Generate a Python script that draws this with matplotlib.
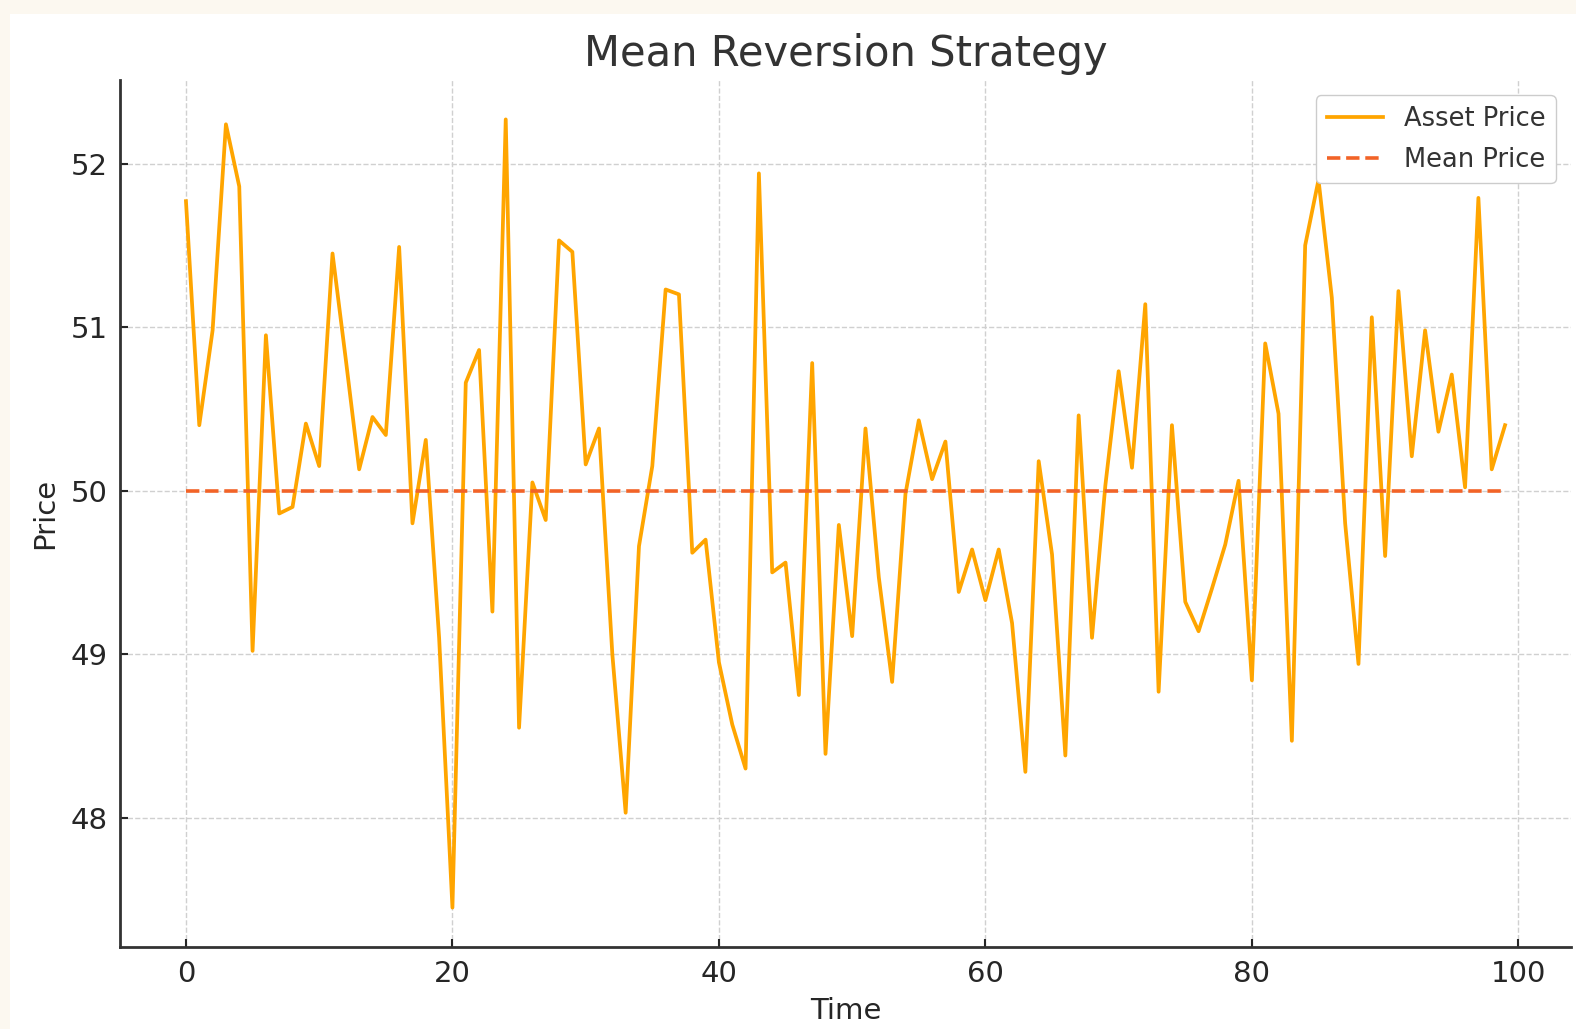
import numpy as np
import matplotlib.pyplot as plt
from matplotlib.patches import Rectangle

# values
time = list(range(100))
asset_price = [
    51.77, 50.40, 50.98, 52.24, 51.86, 49.02, 50.95, 49.86, 49.90, 50.41,
    50.15, 51.45, 50.80, 50.13, 50.45, 50.34, 51.49, 49.80, 50.31, 49.10,
    47.45, 50.66, 50.86, 49.26, 52.27, 48.55, 50.05, 49.82, 51.53, 51.46,
    50.16, 50.38, 49.00, 48.03, 49.66, 50.15, 51.23, 51.20, 49.62, 49.70,
    48.95, 48.57, 48.30, 51.94, 49.50, 49.56, 48.75, 50.78, 48.39, 49.79,
    49.11, 50.38, 49.47, 48.83, 49.98, 50.43, 50.07, 50.30, 49.38, 49.64,
    49.33, 49.64, 49.19, 48.28, 50.18, 49.61, 48.38, 50.46, 49.10, 50.03,
    50.73, 50.14, 51.14, 48.77, 50.40, 49.32, 49.14, 49.40, 49.67, 50.06,
    48.84, 50.90, 50.47, 48.47, 51.50, 51.90, 51.18, 49.80, 48.94, 51.06,
    49.60, 51.22, 50.21, 50.98, 50.36, 50.71, 50.02, 51.79, 50.13, 50.40,
]
mean_price = 50

fig = plt.figure(figsize=(15.76, 10.29), dpi=100, facecolor='#fcf8f0')
# white card inside the cream border
fig.add_artist(Rectangle((10 / 1576, 0), 1, 1 - 14 / 1029, transform=fig.transFigure,
                         facecolor='white', edgecolor='none', zorder=-5))
ax = fig.add_axes([120 / 1576, 82 / 1029, 1451 / 1576, 867 / 1029])
ax.set_facecolor('white')

ax.plot(time, asset_price, color='#ffa500', lw=2.7, label='Asset Price')
ax.plot(time, [mean_price] * len(time), color='#f26327', lw=2.6, ls='--', label='Mean Price')

ax.set_title('Mean Reversion Strategy', fontsize=30, color='#333333', pad=10)
ax.set_xlabel('Time', fontsize=21, color='#262626', labelpad=7)
ax.set_ylabel('Price', fontsize=21, color='#262626', labelpad=8)
ax.set_xticks([0, 20, 40, 60, 80, 100])
ax.set_yticks([48, 49, 50, 51, 52])
ax.tick_params(labelsize=21, colors='#262626', direction='in', length=6, width=1.5, pad=9)

ax.grid(True, ls='--', color='#d0d0d0', lw=1)
for s in ['top', 'right']:
    ax.spines[s].set_visible(False)
for s in ['left', 'bottom']:
    ax.spines[s].set_color('#333333')
    ax.spines[s].set_linewidth(2)

ax.legend(loc='upper right', fontsize=18.5, framealpha=1, edgecolor='#cccccc',
          handlelength=2.2, borderaxespad=0.6, labelspacing=0.6, labelcolor='#333333')

fig.savefig('out.png', dpi=100, facecolor=fig.get_facecolor())
